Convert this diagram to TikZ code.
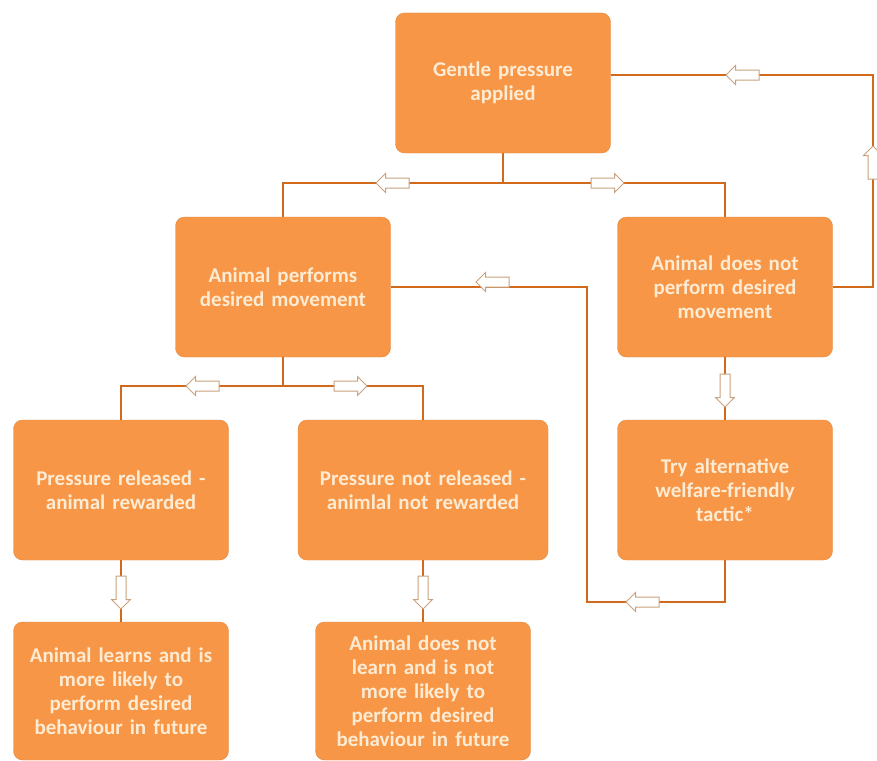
\documentclass[tikz,border=0pt]{standalone}
\usepackage{fontspec}
\setmainfont{Carlito}
\usetikzlibrary{shapes.arrows,positioning}
\definecolor{boxfill}{HTML}{F79646}
\definecolor{boxtext}{HTML}{FDEBD3}
\definecolor{linkline}{HTML}{D26A1E}
\definecolor{arrowedge}{HTML}{C8A27E}
\tikzset{stagebox/.style={fill=boxfill,draw=boxfill!92!black,rounded corners=9pt,minimum width=215pt,minimum height=140pt,text width=208pt,align=center,text=boxtext,font=\bfseries\fontsize{21}{24}\selectfont,inner sep=0pt}}
\tikzset{link/.style={draw=linkline,line width=2.6pt}}
\tikzset{hollow/.style={single arrow,draw=arrowedge,fill=white,line width=1pt,minimum height=33pt,inner sep=4.5pt,single arrow head extend=4.5pt,shape border rotate=#1},hollow/.default=0}

\begin{document}
\begin{tikzpicture}[x=1pt,y=-1pt]
	\useasboundingbox[fill=white] (0,0) rectangle (877,760);

	% stages
	\node [stagebox] (gentle) at (503,83) {Gentle pressure\\applied};
	\node [stagebox] (perf) at (283,287) {Animal performs\\desired movement};
	\node [stagebox] (noperf) at (725,287) {Animal does not\\perform desired\\movement};
	\node [stagebox] (released) at (121,490) {Pressure released -\\animal rewarded};
	\node [stagebox,minimum width=250pt,text width=244pt] (kept) at (423,490) {Pressure not released -\\animlal not rewarded};
	\node [stagebox] (tactic) at (725,490) {Try alternative\\welfare-friendly\\tactic*};
	\node [stagebox,minimum height=138pt] (learns) at (121,691) {Animal learns and is\\more likely to\\perform desired\\behaviour in future};
	\node [stagebox,minimum height=138pt] (nolearn) at (423,691) {Animal does not\\learn and is not\\more likely to\\perform desired\\behaviour in future};

	% connectors
	\coordinate (fork1) at (503,183);
	\coordinate (fork2) at (283,386);
	\coordinate (loop) at (873,75);
	\coordinate (back) at (587,602);
	\draw [link] (gentle.south) -- (fork1);
	\draw [link] (perf.north) |- (fork1) -| (noperf.north);
	\draw [link] (perf.south) -- (fork2);
	\draw [link] (released.north) |- (fork2) -| (kept.north);
	\draw [link] (noperf.east) -| (loop) -- (gentle.east |- loop);
	\draw [link] (noperf.south) -- (tactic.north);
	\draw [link] (tactic.south) |- (back) |- (perf.east);
	\draw [link] (released.south) -- (learns.north);
	\draw [link] (kept.south) -- (nolearn.north);

	% hollow arrows
	\node [hollow=180] (a1) at (395,183) {};
	\node [hollow] (a2) at (605,183) {};
	\node [hollow=180] (a3) at (205,386) {};
	\node [hollow] (a4) at (348,386) {};
	\node [hollow=90] (a5) at (873,165) {};
	\node [hollow=180] (a6) at (745,75) {};
	\node [hollow=270] (a7) at (725,388) {};
	\node [hollow=180] (a8) at (645,602) {};
	\node [hollow=180] (a9) at (495,282) {};
	\node [hollow=270] (a10) at (121,590) {};
	\node [hollow=270] (a11) at (423,590) {};
\end{tikzpicture}
\end{document}
